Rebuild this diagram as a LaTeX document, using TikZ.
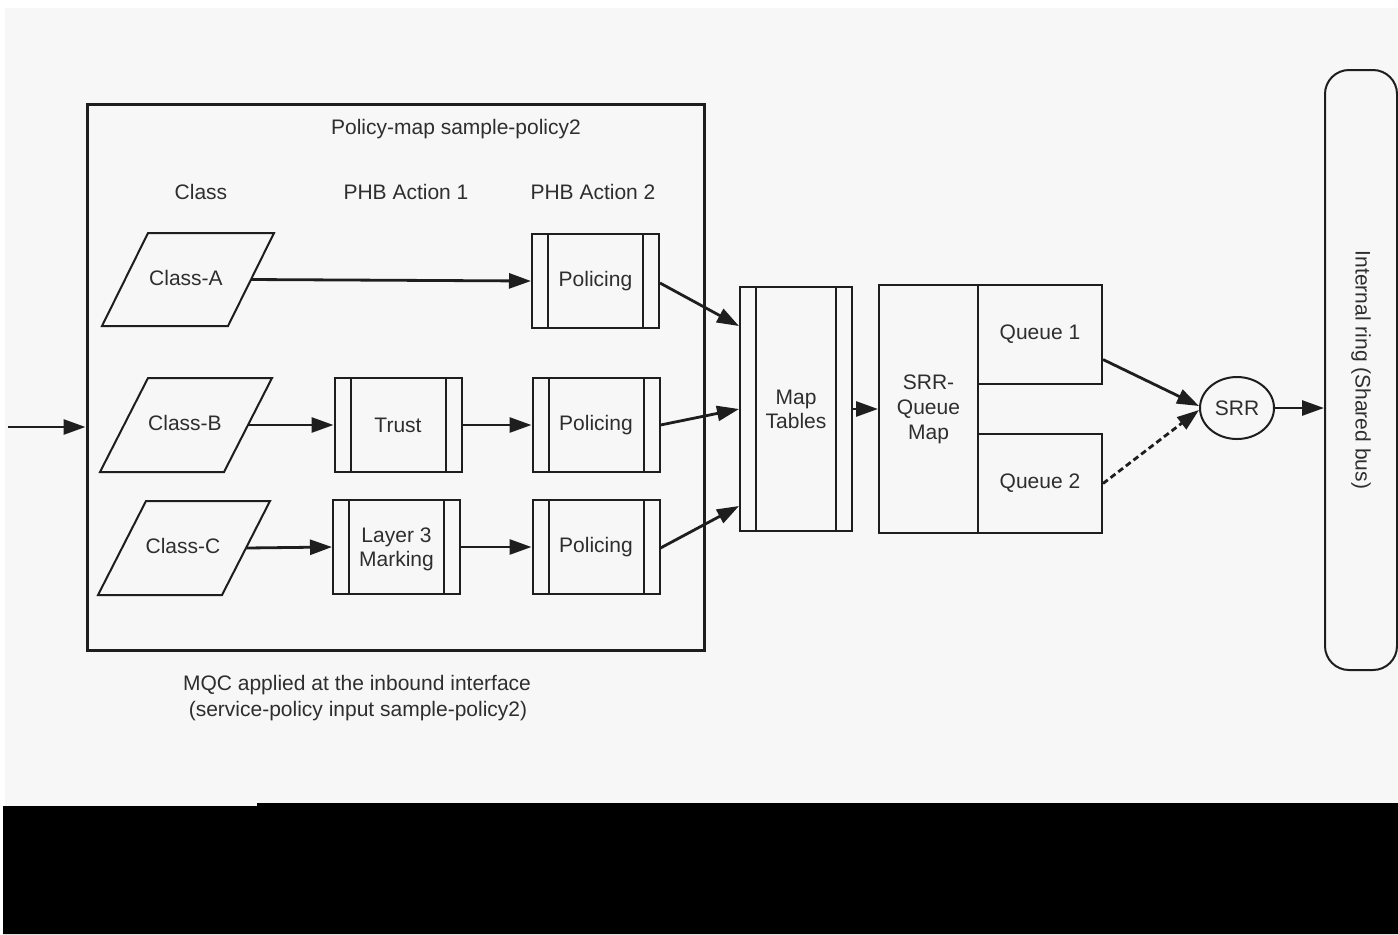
\documentclass[tikz,border=0pt]{standalone}
\usepackage{fontspec}
\setmainfont{Liberation Sans}
\usetikzlibrary{arrows.meta,shapes.geometric}
\definecolor{bg}{HTML}{F7F7F7}
\definecolor{ink}{HTML}{1E1E1E}
\definecolor{txt}{HTML}{2E2E2E}
\begin{document}
\begin{tikzpicture}[x=0.5pt,y=-0.5pt,
  lbl/.style={text=txt, font=\fontsize{10.5}{12}\selectfont, align=center, inner sep=0pt},
  boxline/.style={draw=ink, line width=1pt},
  plainbox/.style={boxline, lbl, inner sep=0pt},
  proc/.style={boxline, lbl, inner sep=0pt, minimum width=63.5pt, minimum height=47pt,
    path picture={\draw[ink, line width=1pt]
      ([xshift=8pt]path picture bounding box.north west) -- ([xshift=8pt]path picture bounding box.south west)
      ([xshift=-8pt]path picture bounding box.north east) -- ([xshift=-8pt]path picture bounding box.south east);}},
  arr/.style={draw=ink, line width=1.4pt, -{Triangle[length=11pt,width=7.5pt]}},
  dasharr/.style={arr, dash pattern=on 3pt off 1.8pt},
  para/.style={boxline, line width=1pt}
]
\useasboundingbox (0,0) rectangle (1398,934);
\fill[white] (0,0) rectangle (1398,934);
\fill[bg] (5,8) rectangle (1398,806);
\fill[black] (3,806) -- (257,806) -- (257,803) -- (1398,803) -- (1398,934) -- (3,934) -- cycle;

% policy-map frame
\node[draw=ink, line width=1.5pt, minimum width=308.5pt, minimum height=273pt, inner sep=0pt] (pm) at (395.5,377) {};
\node[lbl] (pmt) at (456,129) {Policy-map sample-policy2};
\node[lbl] (hc) at (201,192) {Class};
\node[lbl] (h1) at (406,192) {PHB Action 1};
\node[lbl] (h2) at (593,192) {PHB Action 2};

% classes
\draw[para] (148,233) -- (274,233) -- (228,326) -- (102,326) -- cycle;
\node[lbl] (ca) at (186,278) {Class-A};
\coordinate (caR) at (251,279.5);
\draw[para] (148,378) -- (272,378) -- (224,472) -- (100,472) -- cycle;
\node[lbl] (cb) at (185,423) {Class-B};
\coordinate (cbR) at (248,425);
\draw[para] (146,501) -- (270,501) -- (222,595) -- (98,595) -- cycle;
\node[lbl] (cc) at (183,546) {Class-C};
\coordinate (ccR) at (246,548);

% actions
\node[proc] (polA) at (595.5,281) {Policing};
\node[proc] (trust) at (398,425) {Trust};
\node[proc] (polB) at (596,425) {Policing};
\node[proc, text depth=0pt] (l3) at (396.5,547) {Layer 3\\Marking};
\node[proc] (polC) at (596,547) {Policing};

% map tables
\node[proc, minimum width=56pt, minimum height=122pt] (map) at (796,409) {Map\\Tables};

% SRR queue map and queues
\node[plainbox, minimum width=49.5pt, minimum height=124pt] (srrq) at (928.5,409) {SRR-\\[0.5pt]Queue\\[0.5pt]Map};
\node[plainbox, minimum width=62pt, minimum height=49.5pt] (q1) at (1040,334.5) {Queue 1};
\node[plainbox, minimum width=62pt, minimum height=49.5pt] (q2) at (1040,483.5) {Queue 2};

% SRR
\node[boxline, lbl, ellipse, minimum width=37pt, minimum height=31pt, inner sep=0pt] (srr) at (1237,408) {SRR};

% internal ring
\node[draw=ink, line width=1pt, rounded corners=12pt, minimum width=300pt, minimum height=36pt,
  rotate=-90, lbl] (ring) at (1361,370) {Internal ring (Shared bus)};

% bottom caption
\node[lbl] (cap1) at (357,685) {MQC applied at the inbound interface};
\node[lbl] (cap2) at (358,711) {(service-policy input sample-policy2)};

% connectors
\coordinate (in) at (8,427);
\draw[arr] (in) -- (in -| pm.west);
\draw[arr] (caR) -- (polA.west);
\draw[arr] (cbR) -- (trust.west);
\draw[arr] (trust) -- (polB);
\draw[arr] (ccR) -- (l3.west);
\draw[arr] (l3) -- (polC);
\draw[arr] ([yshift=-1pt]polA.east) -- ([yshift=41.5pt]map.west);
\draw[arr] (polB.east) -- (map.west);
\draw[arr] ([yshift=-0.5pt]polC.east) -- ([yshift=-48.5pt]map.west);
\draw[arr] (map) -- (srrq);
\draw[arr] ([yshift=-12.5pt]q1.east) -- ([yshift=1pt]srr.west);
\draw[dasharr] (q2.east) -- ([yshift=-1pt]srr.west);
\draw[arr] (srr.east) -- (srr.east -| ring.south);
\end{tikzpicture}
\end{document}
